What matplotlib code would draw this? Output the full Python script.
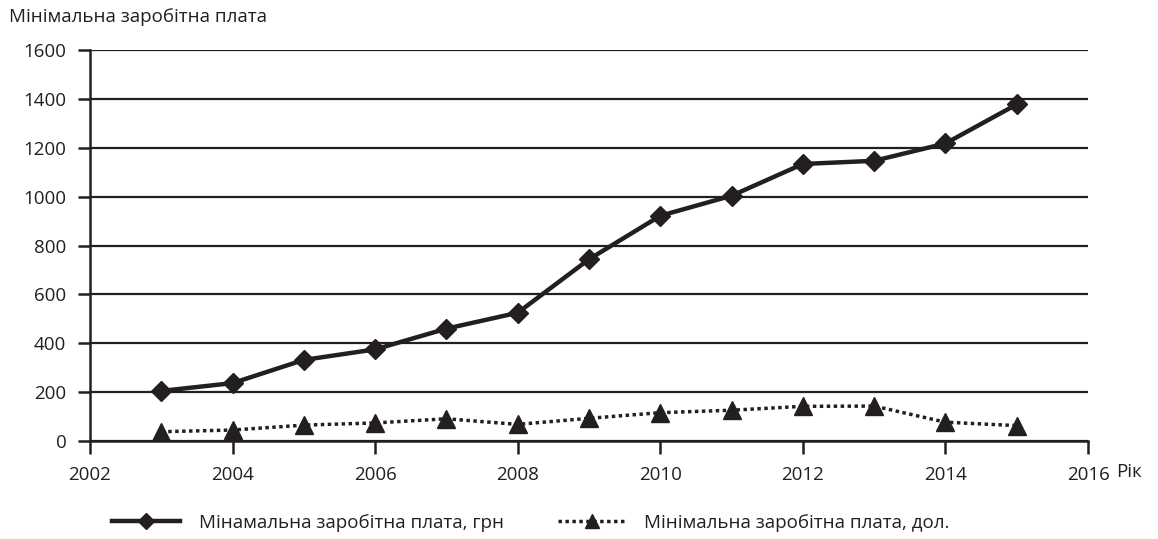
import matplotlib.pyplot as plt

plt.rcParams['font.family'] = ['Open Sans', 'DejaVu Sans']

years = [2003, 2004, 2005, 2006, 2007, 2008, 2009, 2010, 2011, 2012, 2013, 2014, 2015]
wage_uah = [205, 237, 332, 375, 460, 525, 744, 922, 1004, 1134, 1147, 1218, 1378]
wage_usd = [38, 45, 65, 74, 91, 68, 93, 116, 126, 142, 143, 77, 63]
label_uah = "Мінамальна заробітна плата, грн"
label_usd = "Мінімальна заробітна плата, дол."
ink = '#231f20'

fig = plt.figure(figsize=(11.58, 5.39), dpi=100)
ax = fig.add_axes([0.0777, 0.1818, 0.8619, 0.7252])

ax.plot(years, wage_uah, color=ink, lw=3.2, marker='D', ms=10.5, label=label_uah, zorder=3)
ax.plot(years, wage_usd, color=ink, lw=2.5, ls=(0, (1, 1)), marker='^', ms=12.5,
        label=label_usd, zorder=3)

ax.set_xlim(2002, 2016)
ax.set_ylim(0, 1600)
ax.set_xticks(range(2002, 2017, 2))
ax.set_yticks(range(0, 1601, 200))
ax.yaxis.grid(True, color=ink, lw=1.6)
ax.set_axisbelow(True)
for s in ['top', 'right']:
    ax.spines[s].set_visible(False)
for s in ['left', 'bottom']:
    ax.spines[s].set_color(ink)
    ax.spines[s].set_linewidth(1.8)
ax.tick_params(axis='both', length=9, width=1.8, color=ink, labelsize=13.5, labelcolor=ink)
ax.tick_params(axis='x', pad=9)
ax.tick_params(axis='y', pad=8)

fig.text(0.008, 0.968, "Мінімальна заробітна плата", fontsize=13.5, color=ink, va='center')
fig.text(0.9637, 0.124, "Рік", fontsize=13.5, color=ink, va='center')

fig.legend(loc='center', bbox_to_anchor=(0.4585, 0.03), ncol=2, frameon=False,
           fontsize=13.5, handlelength=3.6, columnspacing=2.9, handletextpad=1.0,
           markerscale=0.8, labelcolor=ink)

fig.savefig('out.png', dpi=100)
